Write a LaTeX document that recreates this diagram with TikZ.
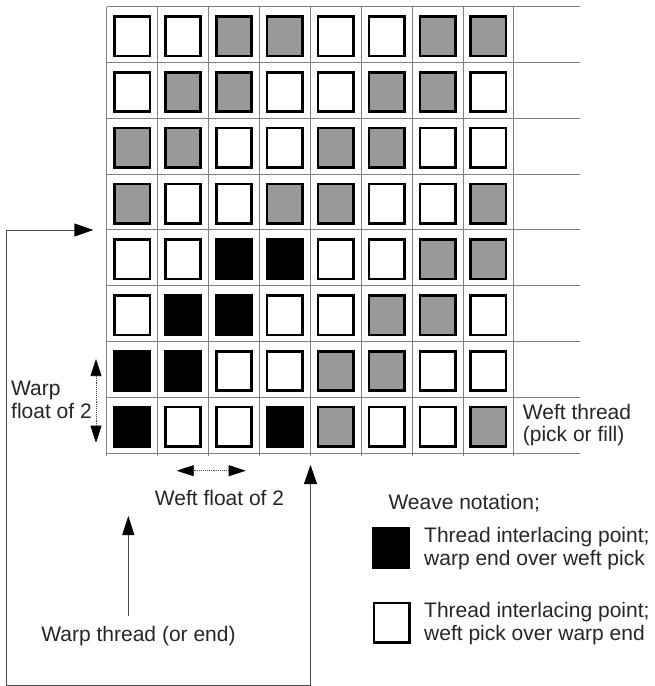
\documentclass[tikz,border=0pt]{standalone}
\usepackage{fontspec}
\setmainfont{Liberation Sans}
\usetikzlibrary{arrows.meta}
\definecolor{shade}{gray}{0.6}
\begin{document}
\begin{tikzpicture}[x=1pt,y=-1pt,
  gridline/.style={draw=black!50,line width=0.9pt},
  cell/.style={rectangle,draw=black,line width=2.6pt,minimum width=35.4pt,minimum height=39.4pt,inner sep=0pt},
  label/.style={font=\fontsize{21}{22.5}\selectfont,inner sep=0pt,text=black!85},
  conn/.style={draw=black!70,line width=0.9pt},
  bigtip/.style={{Triangle[length=19pt,width=13pt,color=black]}-{Triangle[length=19pt,width=13pt,color=black]}},
  midtip/.style={-{Triangle[length=19pt,width=12pt,color=black]}},
  floattip/.style={{Triangle[length=17pt,width=11pt,color=black]}-{Triangle[length=17pt,width=11pt,color=black]}},
 ]
\useasboundingbox (0,0) rectangle (654,686);
% grid lines
\foreach \j in {0,...,8}
  \draw[gridline] (106.7,{6.7+55.8*\j}) -- (580,{6.7+55.8*\j});
\foreach \i in {0,...,8}
  \draw[gridline] ({106.7+50.9*\i},6.7) -- ({106.7+50.9*\i},456);
% weave squares
\foreach \row [count=\j from 0] in {
  {white,white,shade,shade,white,white,shade,shade},
  {white,shade,shade,white,white,shade,shade,white},
  {shade,shade,white,white,shade,shade,white,white},
  {shade,white,white,shade,shade,white,white,shade},
  {white,white,black,black,white,white,shade,shade},
  {white,black,black,white,white,shade,shade,white},
  {black,black,white,white,shade,shade,white,white},
  {black,white,white,black,shade,white,white,shade}}
  \foreach \c [count=\i from 0] in \row
    \node[cell,fill=\c] (s-\j-\i) at ({106.7+50.9*(\i+0.5)},{6.7+55.8*(\j+0.5)+1.5}) {};
% legend boxes
\node[cell,fill=black] (legB) at (391,548) {};
\node[cell,fill=white] (legW) at (391.5,622.5) {};
% texts
\node[label,align=left,anchor=base west] (warpfloat) at (11,418) {Warp\\float of 2};
\node[label,align=left,anchor=base west] (weftthread) at (522.7,441.7) {Weft thread\\(pick or fill)};
\node[label,anchor=base] (weftfloat) at (219.5,505) {Weft float of 2};
\node[label,anchor=base] (warpthread) at (138.5,641.7) {Warp thread (or end)};
\node[label,anchor=base west] (weavenot) at (388.3,509.3) {Weave notation;};
\node[label,align=left,anchor=base west] (legBtext) at (424,565) {Thread interlacing point;\\warp end over weft pick};
\node[label,align=left,anchor=base west] (legWtext) at (424,640) {Thread interlacing point;\\weft pick over warp end};
% connector coordinates
\coordinate (ltop) at (6.7,230);
\coordinate (lbot) at (6.7,685);
\coordinate (rbot) at (310.5,685);
\coordinate (gridin) at (93.3,230);
\coordinate (gridup) at (310.5,465);
\coordinate (wt-tail) at (128.3,616);
\coordinate (wt-tip) at (128.3,516);
\coordinate (wf-l) at (176.7,470.7);
\coordinate (wf-r) at (245.7,470.7);
\coordinate (wpf-t) at (96,359);
\coordinate (wpf-b) at (96,442.7);
% connectors
\draw[conn,bigtip] (gridup) -- (rbot) -- (lbot) -- (ltop) -- (gridin);
\draw[conn,midtip] (wt-tail) -- (wt-tip);
\draw[conn,floattip,densely dotted,line width=0.6pt] (wf-l) -- (wf-r);
\draw[conn,floattip,densely dotted,line width=0.6pt] (wpf-t) -- (wpf-b);
\end{tikzpicture}
\end{document}
